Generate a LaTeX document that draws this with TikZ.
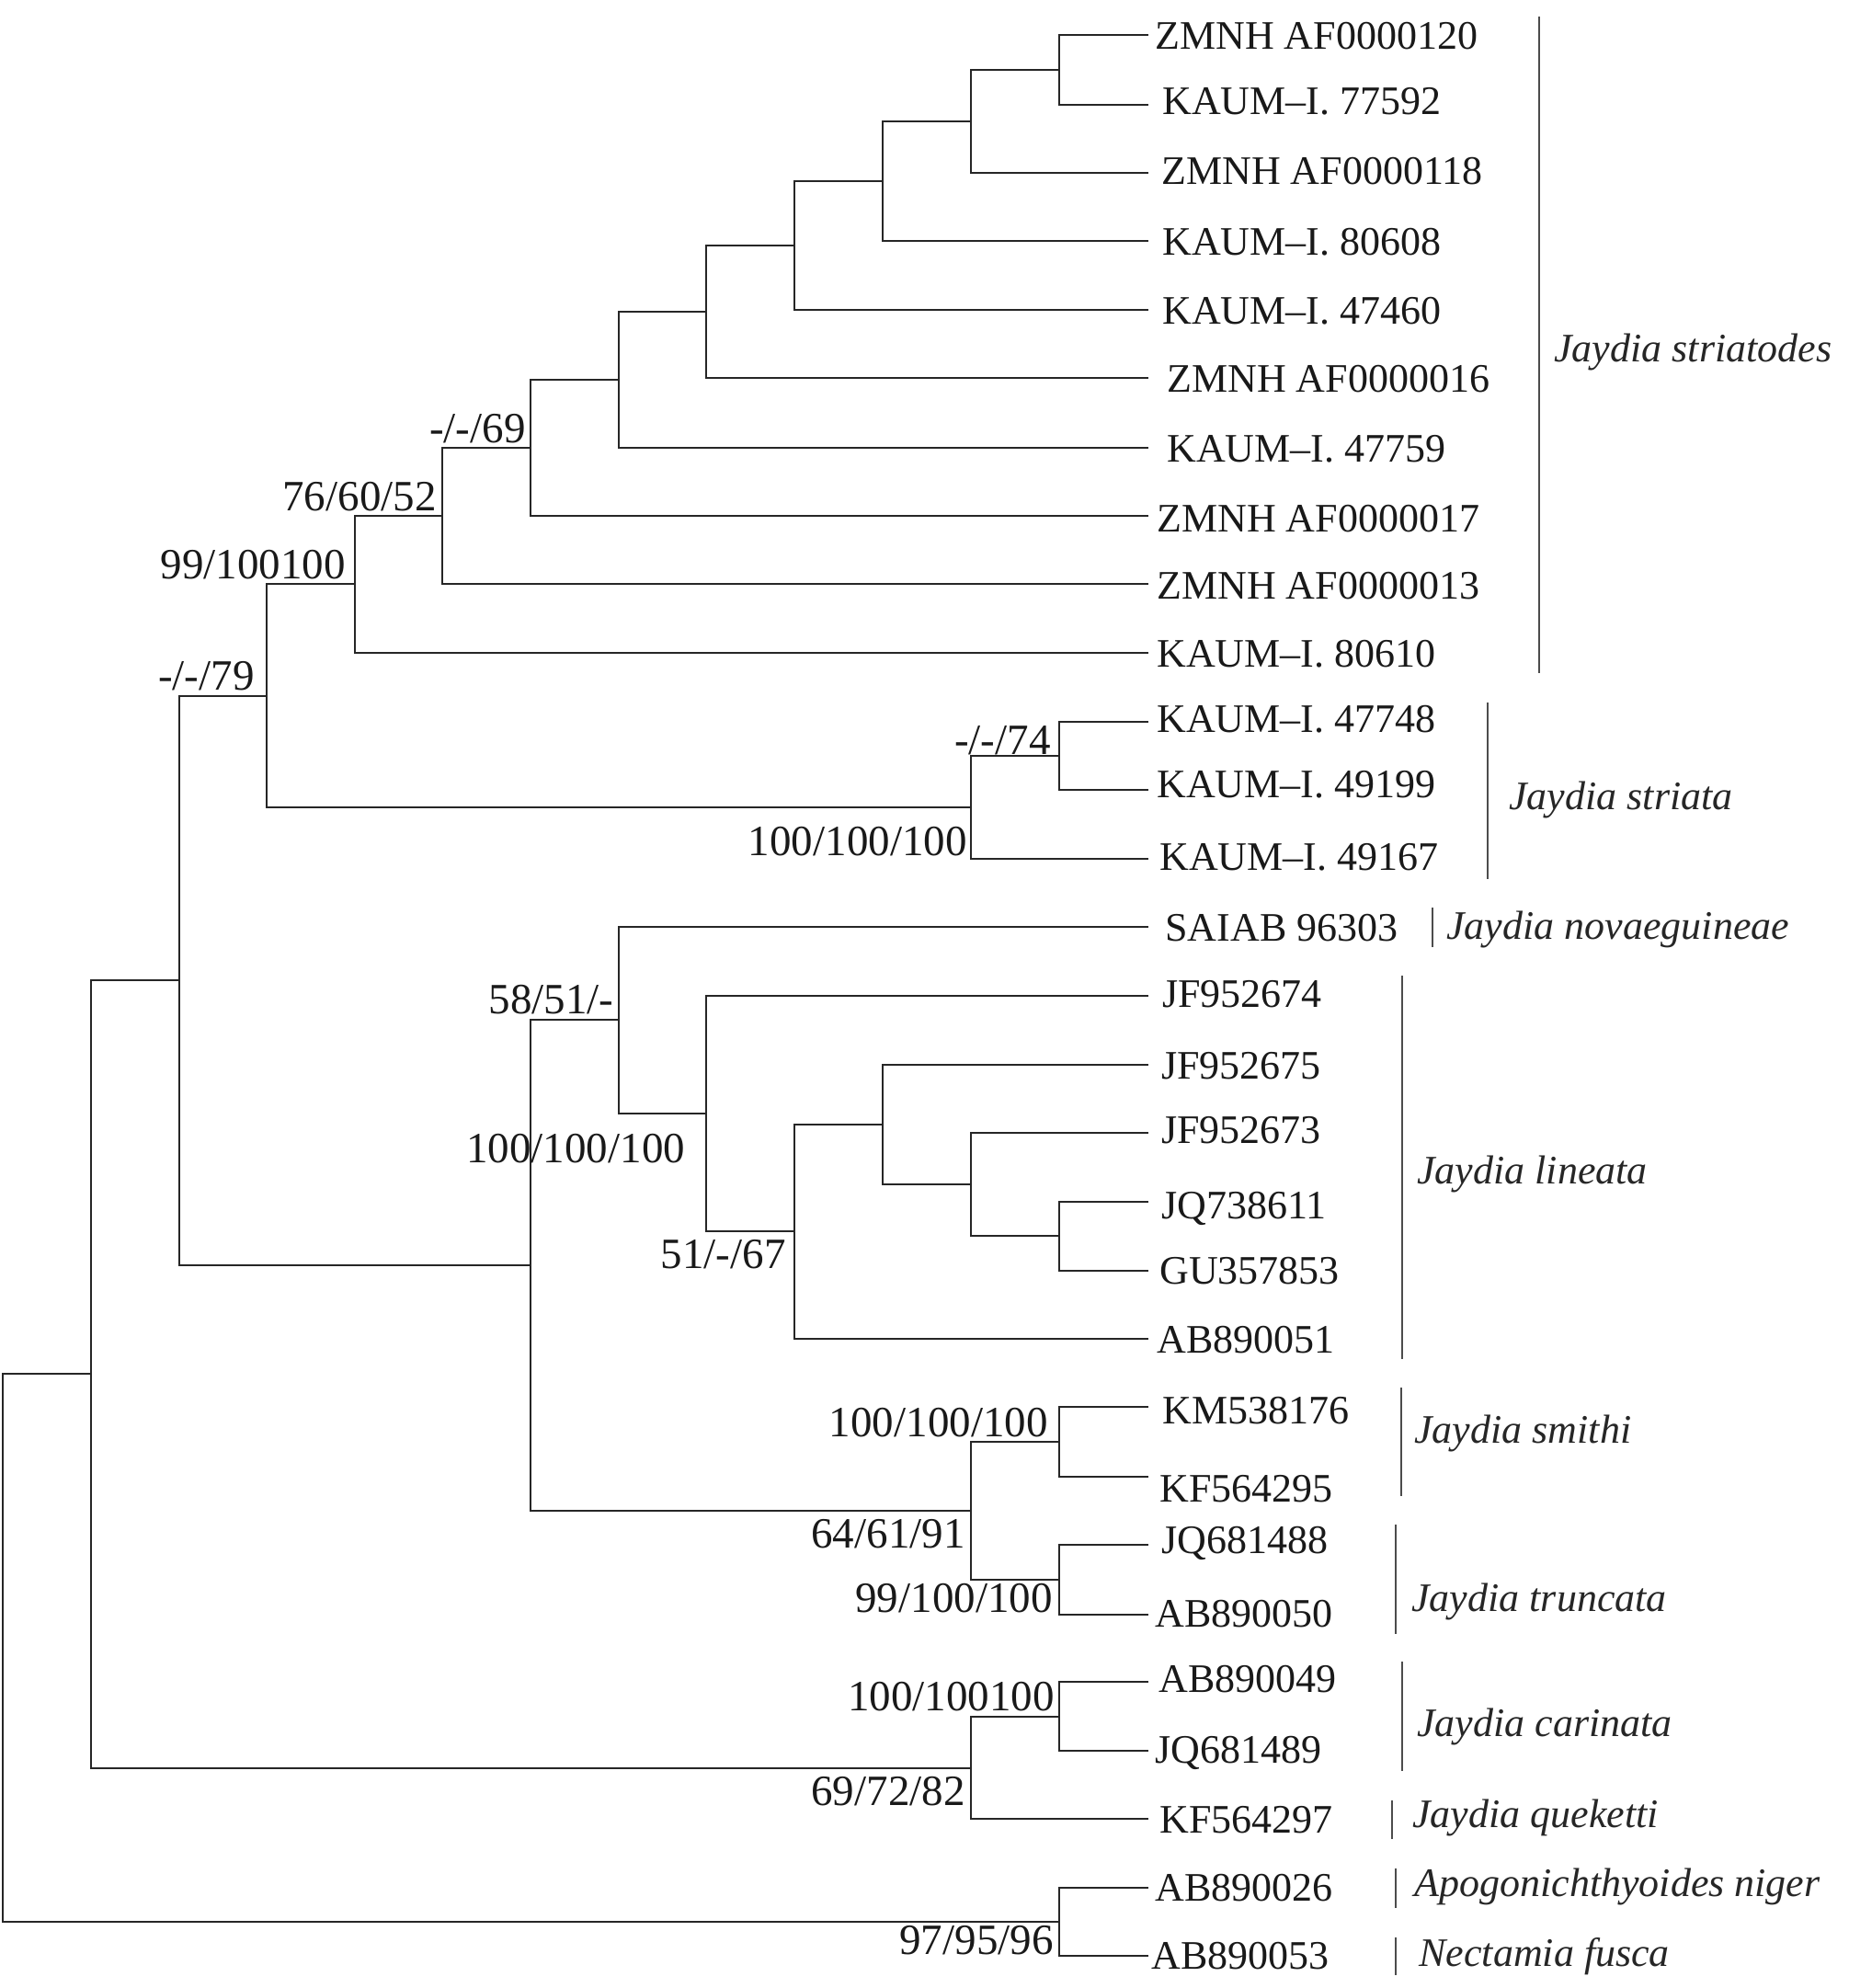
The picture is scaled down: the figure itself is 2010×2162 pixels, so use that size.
\documentclass[tikz,border=0pt]{standalone}
\usepackage{fontspec}
\setmainfont{Liberation Serif}
\usetikzlibrary{calc}
\begin{document}
\begin{tikzpicture}[x=0.5pt,y=-0.5pt,
  br/.style={line width=1.35pt, draw=black!85, line join=miter, line cap=rect},
  leaflab/.style={anchor=base west, inner sep=0pt, text=black!90, font=\fontsize{22}{26}\selectfont},
  sup/.style={anchor=base east, inner sep=0pt, text=black!90, font=\fontsize{23.5}{28}\selectfont},
  sp/.style={anchor=base west, inner sep=0pt, text=black!85, font=\fontsize{22}{26}\selectfont\itshape},
  bar/.style={line width=1.25pt, draw=black!70}]
\useasboundingbox (0,0) rectangle (2010,2162);
% leaf tips
\coordinate (l1) at (1248,38);
\coordinate (l2) at (1248,114);
\coordinate (l3) at (1248,188);
\coordinate (l4) at (1248,262);
\coordinate (l5) at (1248,337);
\coordinate (l6) at (1248,411);
\coordinate (l7) at (1248,487);
\coordinate (l8) at (1248,561);
\coordinate (l9) at (1248,635);
\coordinate (l10) at (1248,710);
\coordinate (l11) at (1248,785);
\coordinate (l12) at (1248,859);
\coordinate (l13) at (1248,934);
\coordinate (l14) at (1248,1008);
\coordinate (l15) at (1248,1083);
\coordinate (l16) at (1248,1158);
\coordinate (l17) at (1248,1232);
\coordinate (l18) at (1248,1307);
\coordinate (l19) at (1248,1382);
\coordinate (l20) at (1248,1456);
\coordinate (l21) at (1248,1530);
\coordinate (l22) at (1248,1606);
\coordinate (l23) at (1248,1680);
\coordinate (l24) at (1248,1756);
\coordinate (l25) at (1248,1829);
\coordinate (l26) at (1248,1904);
\coordinate (l27) at (1248,1978);
\coordinate (l28) at (1248,2053);
\coordinate (l29) at (1248,2127);
% internal nodes
\coordinate (na) at (1152,76);
\coordinate (nb) at (1056,132);
\coordinate (nc) at (960,197);
\coordinate (nd) at (864,267);
\coordinate (ne) at (768,339);
\coordinate (nf) at (673,413);
\coordinate (ng) at (577,487);
\coordinate (nh) at (481,561);
\coordinate (ni) at (386,635);
\coordinate (nj) at (1152,822);
\coordinate (nk) at (1056,878);
\coordinate (nl) at (290,757);
\coordinate (nm) at (1152,1344);
\coordinate (nn) at (1056,1288);
\coordinate (np) at (960,1223);
\coordinate (no) at (864,1339);
\coordinate (nq) at (768,1211);
\coordinate (nr) at (673,1109);
\coordinate (nt) at (1152,1568);
\coordinate (nu) at (1152,1718);
\coordinate (nv) at (1056,1643);
\coordinate (ns) at (577,1376);
\coordinate (n2) at (195,1066);
\coordinate (nw) at (1152,1867);
\coordinate (nx) at (1056,1923);
\coordinate (n1) at (99,1494);
\coordinate (ny) at (1152,2090);
\coordinate (root) at (3,1792);
% branches
\draw[br] (na) |- (l1); \draw[br] (na) |- (l2);
\draw[br] (nb) |- (na); \draw[br] (nb) |- (l3);
\draw[br] (nc) |- (nb); \draw[br] (nc) |- (l4);
\draw[br] (nd) |- (nc); \draw[br] (nd) |- (l5);
\draw[br] (ne) |- (nd); \draw[br] (ne) |- (l6);
\draw[br] (nf) |- (ne); \draw[br] (nf) |- (l7);
\draw[br] (ng) |- (nf); \draw[br] (ng) |- (l8);
\draw[br] (nh) |- (ng); \draw[br] (nh) |- (l9);
\draw[br] (ni) |- (nh); \draw[br] (ni) |- (l10);
\draw[br] (nj) |- (l11); \draw[br] (nj) |- (l12);
\draw[br] (nk) |- (nj); \draw[br] (nk) |- (l13);
\draw[br] (nl) |- (ni); \draw[br] (nl) |- (nk);
\draw[br] (nm) |- (l18); \draw[br] (nm) |- (l19);
\draw[br] (nn) |- (l17); \draw[br] (nn) |- (nm);
\draw[br] (np) |- (l16); \draw[br] (np) |- (nn);
\draw[br] (no) |- (np); \draw[br] (no) |- (l20);
\draw[br] (nq) |- (l15); \draw[br] (nq) |- (no);
\draw[br] (nr) |- (l14); \draw[br] (nr) |- (nq);
\draw[br] (nt) |- (l21); \draw[br] (nt) |- (l22);
\draw[br] (nu) |- (l23); \draw[br] (nu) |- (l24);
\draw[br] (nv) |- (nt); \draw[br] (nv) |- (nu);
\draw[br] (ns) |- (nr); \draw[br] (ns) |- (nv);
\draw[br] (n2) |- (nl); \draw[br] (n2) |- (ns);
\draw[br] (nw) |- (l25); \draw[br] (nw) |- (l26);
\draw[br] (nx) |- (nw); \draw[br] (nx) |- (l27);
\draw[br] (n1) |- (n2); \draw[br] (n1) |- (nx);
\draw[br] (ny) |- (l28); \draw[br] (ny) |- (l29);
\draw[br] (root) |- (n1); \draw[br] (root) |- (ny);
% leaf labels
\node[leaflab] (t1) at ($(l1)+(8,16)$) {ZMNH AF0000120};
\node[leaflab] (t2) at ($(l2)+(16,11)$) {KAUM–I. 77592};
\node[leaflab] (t3) at ($(l3)+(15,12)$) {ZMNH AF0000118};
\node[leaflab] (t4) at ($(l4)+(16,15)$) {KAUM–I. 80608};
\node[leaflab] (t5) at ($(l5)+(16,15)$) {KAUM–I. 47460};
\node[leaflab] (t6) at ($(l6)+(21,15)$) {ZMNH AF0000016};
\node[leaflab] (t7) at ($(l7)+(21,15)$) {KAUM–I. 47759};
\node[leaflab] (t8) at ($(l8)+(10,17)$) {ZMNH AF0000017};
\node[leaflab] (t9) at ($(l9)+(10,16)$) {ZMNH AF0000013};
\node[leaflab] (t10) at ($(l10)+(10,15)$) {KAUM–I. 80610};
\node[leaflab] (t11) at ($(l11)+(10,11)$) {KAUM–I. 47748};
\node[leaflab] (t12) at ($(l12)+(10,8)$) {KAUM–I. 49199};
\node[leaflab] (t13) at ($(l13)+(13,12)$) {KAUM–I. 49167};
\node[leaflab] (t14) at ($(l14)+(19,15)$) {SAIAB 96303};
\node[leaflab] (t15) at ($(l15)+(16,12)$) {JF952674};
\node[leaflab] (t16) at ($(l16)+(15,15)$) {JF952675};
\node[leaflab] (t17) at ($(l17)+(15,11)$) {JF952673};
\node[leaflab] (t18) at ($(l18)+(15,18)$) {JQ738611};
\node[leaflab] (t19) at ($(l19)+(13,14)$) {GU357853};
\node[leaflab] (t20) at ($(l20)+(10,15)$) {AB890051};
\node[leaflab] (t21) at ($(l21)+(16,18)$) {KM538176};
\node[leaflab] (t22) at ($(l22)+(13,27)$) {KF564295};
\node[leaflab] (t23) at ($(l23)+(15,9)$) {JQ681488};
\node[leaflab] (t24) at ($(l24)+(8,13)$) {AB890050};
\node[leaflab] (t25) at ($(l25)+(12,11)$) {AB890049};
\node[leaflab] (t26) at ($(l26)+(8,13)$) {JQ681489};
\node[leaflab] (t27) at ($(l27)+(13,15)$) {KF564297};
\node[leaflab] (t28) at ($(l28)+(8,14)$) {AB890026};
\node[leaflab] (t29) at ($(l29)+(4,14)$) {AB890053};
% support values
\node[sup] (s1) at ($(ng)+(-5,-6)$) {-/-/69};
\node[sup] (s2) at ($(nh)+(-6,-6)$) {76/60/52};
\node[sup] (s3) at ($(ni)+(-10,-6)$) {99/100100};
\node[sup] (s4) at ($(nl)+(-13,-7)$) {-/-/79};
\node[sup] (s5) at ($(nj)+(-9,-2)$) {-/-/74};
\node[sup] (s6) at ($(nk)+(-4,52)$) {100/100/100};
\node[sup] (s7) at ($(nr)+(-5,-7)$) {58/51/-};
\node[sup, anchor=base west] (s8) at ($(ns)+(-70,-112)$) {100/100/100};
\node[sup] (s9) at ($(no)+(-9,40)$) {51/-/67};
\node[sup] (s10) at ($(nt)+(-12,-6)$) {100/100/100};
\node[sup] (s11) at ($(nv)+(-6,40)$) {64/61/91};
\node[sup] (s12) at ($(nu)+(-7,35)$) {99/100/100};
\node[sup] (s13) at ($(nw)+(-5,-7)$) {100/100100};
\node[sup] (s14) at ($(nx)+(-6,40)$) {69/72/82};
\node[sup] (s15) at ($(ny)+(-6,35)$) {97/95/96};
% species bars and names
\draw[bar] (1674,18) -- (1674,732);
\node[sp] (g1) at (1690,393) {Jaydia striatodes};
\draw[bar] (1618,764) -- (1618,956);
\node[sp] (g2) at (1641,880) {Jaydia striata};
\draw[bar] (1558,987) -- (1558,1030);
\node[sp] (g3) at (1573,1021) {Jaydia novaeguineae};
\draw[bar] (1525,1061) -- (1525,1478);
\node[sp] (g4) at (1541,1287) {Jaydia lineata};
\draw[bar] (1524,1509) -- (1524,1627);
\node[sp] (g5) at (1538,1569) {Jaydia smithi};
\draw[bar] (1518,1658) -- (1518,1777);
\node[sp] (g6) at (1535,1752) {Jaydia truncata};
\draw[bar] (1525,1807) -- (1525,1926);
\node[sp] (g7) at (1541,1888) {Jaydia carinata};
\draw[bar] (1514,1958) -- (1514,2000);
\node[sp] (g8) at (1536,1987) {Jaydia queketti};
\draw[bar] (1518,2032) -- (1518,2075);
\node[sp] (g9) at (1538,2062) {Apogonichthyoides niger};
\draw[bar] (1518,2107) -- (1518,2148);
\node[sp] (g10) at (1543,2138) {Nectamia fusca};
\end{tikzpicture}
\end{document}
